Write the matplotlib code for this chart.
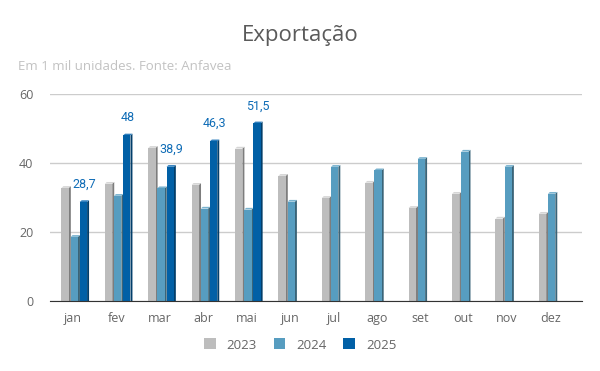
import numpy as np
import matplotlib.pyplot as plt
from matplotlib.patches import Polygon

meses = ['jan', 'fev', 'mar', 'abr', 'mai', 'jun', 'jul', 'ago', 'set', 'out', 'nov', 'dez']
v2023 = [32.8, 34.0, 44.4, 33.7, 44.2, 36.3, 29.9, 34.3, 27.0, 31.1, 23.9, 25.3]
v2024 = [18.6, 30.5, 32.7, 26.8, 26.5, 28.8, 38.9, 37.9, 41.2, 43.3, 38.9, 31.1]
v2025 = [28.7, 48, 38.9, 46.3, 51.5]
rotulos = ['28,7', '48', '38,9', '46,3', '51,5']

series = [
    ('2023', v2023, '#bdbdbd', '#7d7d7d', '#d6d6d6'),
    ('2024', v2024, '#579dc0', '#3a6478', '#7ab3cf'),
    ('2025', v2025, '#0160a6', '#023e6a', '#2f7fbd'),
]

fig = plt.figure(figsize=(6, 3.71), dpi=100)
ax = fig.add_axes([50/600, 1-301/371, 532/600, 207/371])

w = 0.17
d = 0.045   # profundidade do efeito 3d
dy = 0.5
x = np.arange(len(meses))
for k, (nome, vals, cor, lado, topo) in enumerate(series):
    xs = x[:len(vals)] + (k-1)*0.21 + 0.03
    for xi, v in zip(xs, vals):
        # lateral
        ax.add_patch(Polygon([(xi+w/2, 0), (xi+w/2+d, 0), (xi+w/2+d, v+dy), (xi+w/2, v)],
                             closed=True, fc=lado, ec='none', zorder=3))
        # topo
        ax.add_patch(Polygon([(xi-w/2, v), (xi+w/2, v), (xi+w/2+d, v+dy), (xi-w/2+d, v+dy)],
                             closed=True, fc=topo, ec='none', zorder=3))
    ax.bar(xs, vals, width=w, color=cor, zorder=4, label=nome)
    if nome == '2025':
        for xi, v, t in zip(xs, vals, rotulos):
            ax.text(xi+0.02, v+3.2, t, ha='center', va='bottom', fontsize=9,
                    color='#0f6cb6', family='Roboto')

ax.set_xlim(-0.53, 11.73)
ax.set_ylim(0, 60)
ax.set_yticks([0, 20, 40, 60])
ax.set_xticks(x)
ax.set_xticklabels(meses)
ax.grid(axis='y', color='#cccccc', linewidth=1, zorder=0)
for s in ['top', 'right', 'left']:
    ax.spines[s].set_visible(False)
ax.spines['bottom'].set_color('#333333')
ax.spines['bottom'].set_zorder(5)
ax.tick_params(axis='both', length=0, labelsize=9, colors='#666666', pad=8)
for lb in ax.get_xticklabels() + ax.get_yticklabels():
    lb.set_family('Open Sans')
ax.tick_params(axis='y', pad=12)

fig.text(0.5, 1-35/371, 'Exportação', ha='center', va='center', fontsize=16,
         color='#5a5a5a', family='Open Sans')
fig.text(18/600, 1-67/371, 'Em 1 mil unidades. Fonte: Anfavea', ha='left', va='center',
         fontsize=9.5, color='#c2c2c2', family='Open Sans')

leg = fig.legend(loc='center', bbox_to_anchor=(0.5, 1-345/371), ncol=3, frameon=False,
                 handlelength=0.9, handleheight=0.9, columnspacing=1.3, handletextpad=0.8,
                 prop={'family': 'Open Sans', 'size': 9.5})
for t in leg.get_texts():
    t.set_color('#666666')

fig.savefig('out.png', dpi=100)
